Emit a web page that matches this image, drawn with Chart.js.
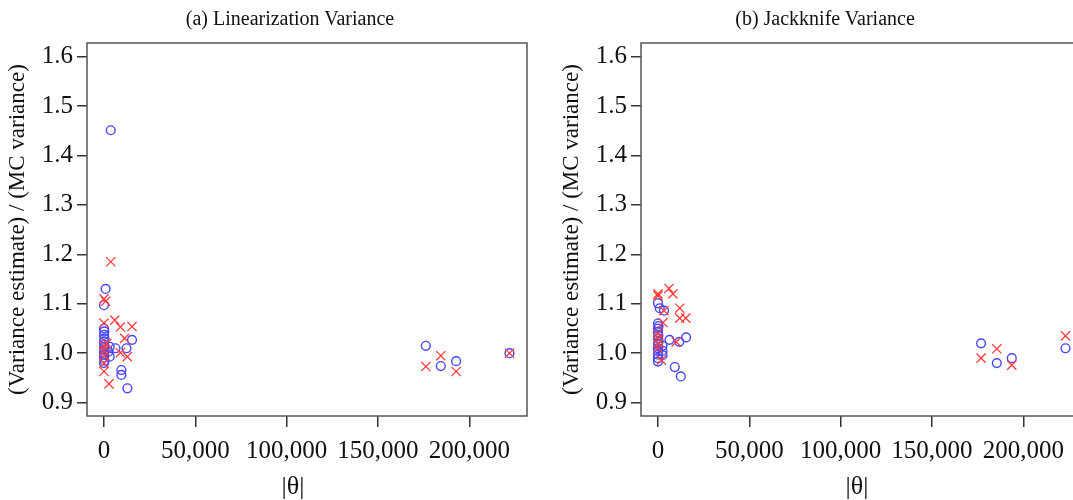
<!DOCTYPE html>
<html>
<head>
<meta charset="utf-8">
<script src="https://cdn.jsdelivr.net/npm/chart.js@4.4.1/dist/chart.umd.min.js"></script>
<style>
  body { margin: 0; width: 1073px; height: 500px; overflow: hidden; background: #fff; position: relative; }
  .ttl { position: absolute; top: 8px; width: 400px; text-align: center; font: 20px "Liberation Serif", serif; line-height: 20px; color: #111; }
  .xt { position: absolute; top: 473px; width: 100px; text-align: center; font: 26px "Liberation Serif", serif; line-height: 26px; color: #111; }
  .panel { position: absolute; top: 0; }
</style>
</head>
<body>
<div class="panel" style="left:0px"><canvas id="c1" width="540" height="500"></canvas></div>
<div class="panel" style="left:554px"><canvas id="c2" width="540" height="500"></canvas></div>
<div class="ttl" style="left:90px">(a) Linearization Variance</div>
<div class="ttl" style="left:625px">(b) Jackknife Variance</div>
<div class="xt" style="left:243px">|θ|</div>
<div class="xt" style="left:807px">|θ|</div>
<script>
// tick labels
const xTicks = [0, 50000, 100000, 150000, 200000];
const yTicks = [0.9, 1.0, 1.1, 1.2, 1.3, 1.4, 1.5, 1.6];

// (a) linearization variance
const linCircleX = [176200, 184400, 192800, 222000, 3700, 900, 0, 0, 200, 0, 300, 0, 200, 0, 400, 0, 200, 0, 300, 0, 3100, 3100, 2500, 6300, 12300, 15350, 9500, 9500, 12800];
const linCircleY = [1.015, 0.974, 0.984, 1.000, 1.451, 1.130, 1.097, 1.050, 1.044, 1.037, 1.030, 1.024, 1.017, 1.012, 1.007, 1.002, 0.997, 0.991, 0.985, 0.980, 1.013, 0.993, 1.003, 1.010, 1.010, 1.027, 0.966, 0.956, 0.929];
const linCrossX = [176200, 184400, 192800, 222000, 3700, 0, 900, 0, 5900, 9000, 15350, 11300, 9000, 12800, 0, 0, 300, 0, 0, 2750, 1500];
const linCrossY = [0.973, 0.995, 0.963, 1.000, 1.185, 1.110, 1.105, 1.061, 1.067, 1.053, 1.054, 1.030, 1.001, 0.993, 1.015, 1.005, 0.995, 0.980, 0.963, 0.938, 1.020];

// (b) jackknife variance
const jackCircleX = [176900, 185500, 193700, 223100, 0, 950, 3300, 0, 300, 0, 0, 200, 0, 300, 0, 0, 200, 0, 0, 0, 2500, 2500, 2500, 6300, 11700, 15400, 9200, 12500];
const jackCircleY = [1.020, 0.980, 0.990, 1.010, 1.101, 1.091, 1.086, 1.060, 1.055, 1.050, 1.043, 1.036, 1.030, 1.023, 1.017, 1.010, 1.004, 0.997, 0.990, 0.983, 1.015, 1.005, 0.996, 1.027, 1.023, 1.032, 0.972, 0.953];
const jackCrossX = [176900, 185500, 193700, 223100, 0, 0, 6000, 8200, 11900, 11900, 15200, 2750, 3300, 0, 0, 500, 10000, 1850, 0];
const jackCrossY = [0.990, 1.009, 0.976, 1.035, 1.120, 1.116, 1.131, 1.120, 1.091, 1.071, 1.071, 1.062, 1.086, 1.040, 1.030, 1.020, 1.023, 0.986, 1.010];

const serif = "'Liberation Serif', 'Times New Roman', serif";

const boxPlugin = {
  id: 'box',
  afterDraw(chart) {
    const { ctx, chartArea: a } = chart;
    ctx.save();
    ctx.strokeStyle = '#555';
    ctx.lineWidth = 1.5;
    ctx.strokeRect(a.left, a.top, a.right - a.left, a.bottom - a.top);
    ctx.restore();
  }
};

const toPoints = (xs, ys) => xs.map((x, i) => ({ x: x, y: ys[i] }));

const makePanel = (id, cx, cy, rx, ry) => {
  new Chart(document.getElementById(id), {
    type: 'scatter',
    data: {
      datasets: [
        {
          label: 'cross',
          data: toPoints(rx, ry),
          pointStyle: 'crossRot',
          pointRadius: 6.5,
          borderColor: '#ff3c3c',
          borderWidth: 1.3,
          backgroundColor: 'transparent'
        },
        {
          label: 'circle',
          data: toPoints(cx, cy),
          pointStyle: 'circle',
          pointRadius: 4.4,
          borderColor: '#4646ff',
          borderWidth: 1.4,
          backgroundColor: 'transparent'
        }
      ]
    },
    options: {
      responsive: false,
      animation: false,
      devicePixelRatio: 1,
      layout: { padding: { top: 43, right: 13, bottom: 0, left: 0 } },
      plugins: { legend: { display: false }, tooltip: { enabled: false } },
      scales: {
        x: {
          type: 'linear',
          min: -9300,
          max: 231600,
          afterFit: s => { s.height = 84; },
          afterBuildTicks: s => { s.ticks = xTicks.map(v => ({ value: v })); },
          border: { display: false },
          grid: { drawOnChartArea: false, drawTicks: true, tickLength: 11, color: '#333', lineWidth: 1.5 },
          ticks: {
            padding: 9,
            maxRotation: 0,
            color: '#111',
            font: { family: serif, size: 25 },
            callback: v => v.toLocaleString('en-US')
          }
        },
        y: {
          min: 0.873,
          max: 1.6275,
          afterFit: s => { s.width = 87; },
          afterBuildTicks: s => { s.ticks = yTicks.map(v => ({ value: v })); },
          border: { display: false },
          grid: { drawOnChartArea: false, drawTicks: true, tickLength: 10, color: '#333', lineWidth: 1.5 },
          ticks: {
            padding: 4,
            color: '#111',
            font: { family: serif, size: 25 },
            callback: v => v.toFixed(1)
          },
          title: { display: true, text: '(Variance estimate) / (MC variance)', color: '#111', font: { family: serif, size: 23 }, padding: { top: 4, bottom: 4 } }
        }
      }
    },
    plugins: [boxPlugin]
  });
};

makePanel('c1', linCircleX, linCircleY, linCrossX, linCrossY);
makePanel('c2', jackCircleX, jackCircleY, jackCrossX, jackCrossY);
</script>
</body>
</html>
